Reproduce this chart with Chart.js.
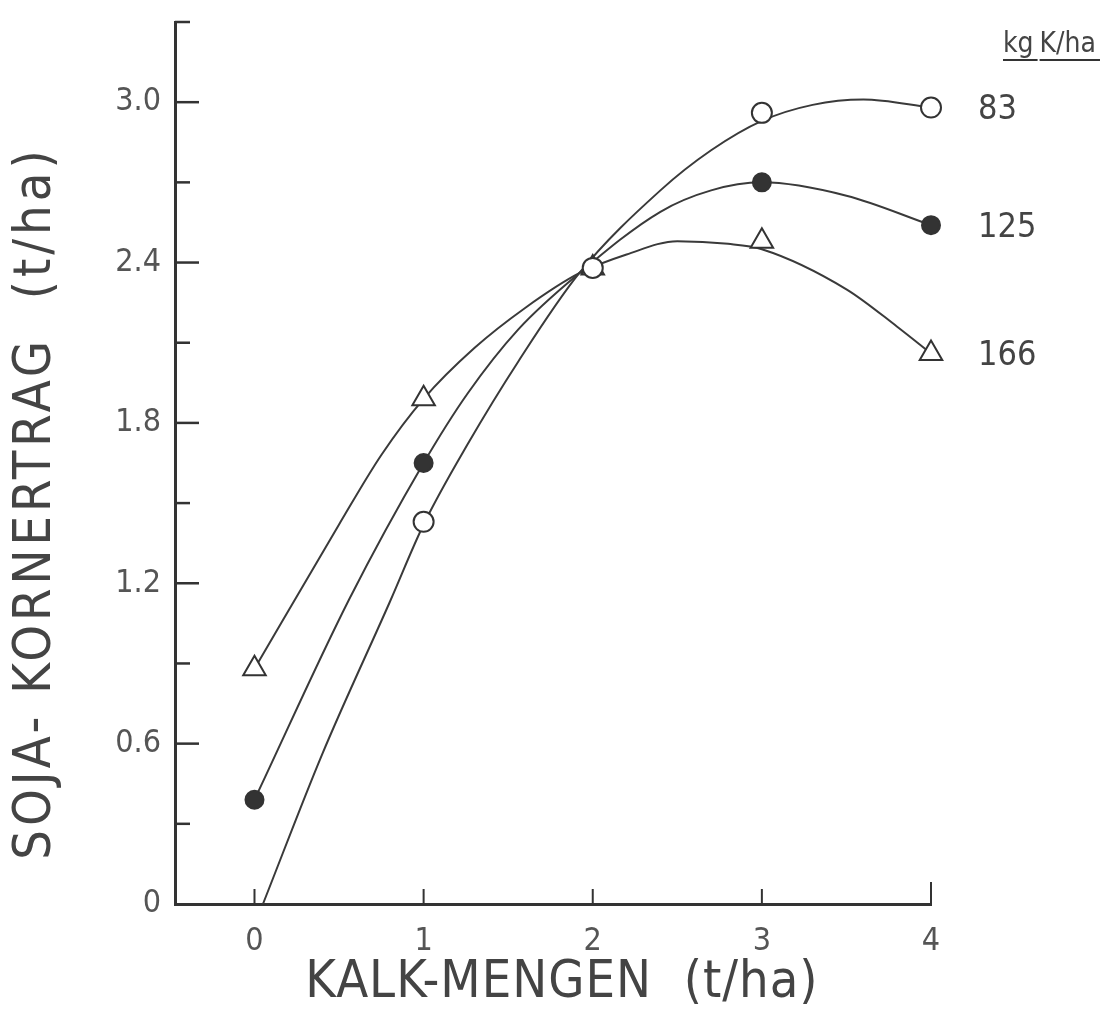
<!DOCTYPE html>
<html>
<head>
<meta charset="utf-8">
<script src="https://cdn.jsdelivr.net/npm/chart.js@4.4.1/dist/chart.umd.min.js"></script>
<style>
  html, body { margin: 0; padding: 0; background: #fff; }
  #wrap { width: 1110px; height: 1021px; }
</style>
</head>
<body>
<div id="wrap"><canvas id="yieldChart"></canvas></div>
<script>
// lime dose (t/ha) and measured yields (t/ha), per K level
const doses = [0, 1, 2, 3, 4];
const yield83 = [null, 1.43, 2.38, 2.96, 2.98];
const yield125 = [0.39, 1.65, 2.38, 2.70, 2.54];
const yield166 = [0.88, 1.89, 2.38, 2.48, 2.06];

// fitted curves
const curve83X = [0.05, 0.4, 0.8, 1.0, 1.26, 1.56, 1.92, 2.4, 2.7, 3.0, 3.3, 3.6, 4.0];
const curve83Y = [0, 0.56, 1.13, 1.42, 1.72, 2.03, 2.36, 2.67, 2.82, 2.93, 2.99, 3.01, 2.98];
const curve125X = [0, 0.56, 1.0, 1.26, 1.56, 1.92, 2.4, 2.7, 3.0, 3.5, 4.0];
const curve125Y = [0.39, 1.14, 1.65, 1.91, 2.15, 2.36, 2.59, 2.67, 2.70, 2.65, 2.54];
const curve166X = [0, 0.5, 0.75, 1.0, 1.3, 1.6, 1.92, 2.2, 2.5, 2.8, 3.0, 3.5, 3.8, 4.0];
const curve166Y = [0.88, 1.42, 1.68, 1.89, 2.08, 2.23, 2.36, 2.43, 2.48, 2.47, 2.45, 2.30, 2.16, 2.06];

const seriesLabels = ['83', '125', '166'];
const unitLabel = ['kg', 'K/ha'];
const xTicks = [0, 1, 2, 3, 4];
const yTickStep = 0.3;
const xTitle = 'KALK-MENGEN  (t/ha)';
const yTitle = 'SOJA- KORNERTRAG  (t/ha)';

const FONT = '"DejaVu Sans Condensed", "Liberation Sans Narrow", "DejaVu Sans", sans-serif';
const INK = '#333';

function pts(xs, ys) {
    return xs.map((x, i) => ({ x: x, y: ys[i] })).filter(p => p.y !== null);
}

function curve(xs, ys) {
    return {
        data: pts(xs, ys),
        showLine: true,
        borderColor: '#3a3a3a',
        borderWidth: 2,
        pointRadius: 0,
        cubicInterpolationMode: 'monotone',
        fill: false,
        order: 2
    };
}

function markers(ys, style, filled, radius) {
    return {
        data: pts(doses, ys),
        showLine: false,
        pointStyle: style,
        pointRadius: radius,
        pointBackgroundColor: filled ? INK : '#fff',
        pointBorderColor: INK,
        pointBorderWidth: 2,
        clip: false,
        order: 1
    };
}

// ticks drawn inward, axis titles, and the end labels on the right
const figureExtras = {
    id: 'figureExtras',
    afterDraw(chart) {
        const ctx = chart.ctx;
        const xs = chart.scales.x;
        const ys = chart.scales.y;
        const left = chart.chartArea.left;
        const bottom = chart.chartArea.bottom;
        ctx.save();
        ctx.strokeStyle = INK;
        ctx.lineWidth = 2.5;
        for (let k = 1; k <= 11; k++) {
            const v = k * yTickStep;
            const py = ys.getPixelForValue(v);
            const len = (k % 2 === 0) ? 24 : 15;
            ctx.beginPath();
            ctx.moveTo(left, py);
            ctx.lineTo(left + len, py);
            ctx.stroke();
        }
        ctx.lineWidth = 2;
        xTicks.forEach(v => {
            const px = xs.getPixelForValue(v);
            const len = v === 4 ? 22 : 15;
            ctx.beginPath();
            ctx.moveTo(px, bottom);
            ctx.lineTo(px, bottom - len);
            ctx.stroke();
        });

        // axis titles
        ctx.fillStyle = '#444';
        ctx.font = '52px ' + FONT;
        ctx.letterSpacing = '1px';
        ctx.textAlign = 'center';
        ctx.textBaseline = 'middle';
        ctx.fillText(xTitle, 562, 983);
        ctx.save();
        ctx.translate(36, 503);
        ctx.rotate(-Math.PI / 2);
        ctx.letterSpacing = '4px';
        ctx.fillText(yTitle, 0, 0);
        ctx.restore();
        ctx.letterSpacing = '0px';

        // series labels at the height of each curve's last point
        const ends = [yield83, yield125, yield166].map(a => a[a.length - 1]);
        ctx.font = '34px ' + FONT;
        ctx.textAlign = 'left';
        seriesLabels.forEach((lab, i) => {
            ctx.fillText(lab, 978, ys.getPixelForValue(ends[i]) + 3);
        });

        ctx.font = '28px ' + FONT;
        ctx.textBaseline = 'alphabetic';
        let x = 1003;
        const yBase = 52;
        ctx.lineWidth = 2;
        unitLabel.forEach(w => {
            const wd = ctx.measureText(w).width;
            ctx.fillText(w, x, yBase);
            ctx.beginPath();
            ctx.moveTo(x, yBase + 8);
            ctx.lineTo(x + wd + 4, yBase + 8);
            ctx.stroke();
            x += wd + 6;
        });
        ctx.restore();
    }
};

new Chart(document.getElementById('yieldChart'), {
    type: 'scatter',
    data: {
        datasets: [
            curve(curve83X, curve83Y),
            curve(curve125X, curve125Y),
            curve(curve166X, curve166Y),
            markers(yield83, 'circle', false, 10),
            markers(yield125, 'circle', true, 9),
            markers(yield166, 'triangle', false, 13)
        ]
    },
    options: {
        responsive: true,
        maintainAspectRatio: false,
        animation: false,
        layout: { padding: { top: 22, right: 179, left: 0, bottom: 0 } },
        plugins: {
            legend: { display: false },
            tooltip: { enabled: false }
        },
        scales: {
            x: {
                type: 'linear',
                min: -0.47,
                max: 4,
                afterBuildTicks: s => { s.ticks = xTicks.map(v => ({ value: v })); },
                afterFit: s => { s.height = 117; s.paddingLeft = 0; s.paddingRight = 0; },
                grid: { display: false, drawTicks: false },
                border: { color: INK, width: 3 },
                ticks: {
                    color: '#555',
                    padding: 18,
                    font: { family: FONT, size: 32 }
                }
            },
            y: {
                min: 0,
                max: 3.3,
                afterFit: s => { s.width = 175; s.paddingTop = 0; s.paddingBottom = 0; },
                grid: { display: false, drawTicks: false },
                border: { color: INK, width: 3 },
                ticks: {
                    stepSize: yTickStep,
                    color: '#555',
                    padding: 14,
                    font: { family: FONT, size: 32 },
                    callback: v => {
                        const k = Math.round(v / yTickStep);
                        if (k % 2 !== 0 || k > 10) return '';
                        return k === 0 ? '0' : v.toFixed(1);
                    }
                }
            }
        }
    },
    plugins: [figureExtras]
});
</script>
</body>
</html>
